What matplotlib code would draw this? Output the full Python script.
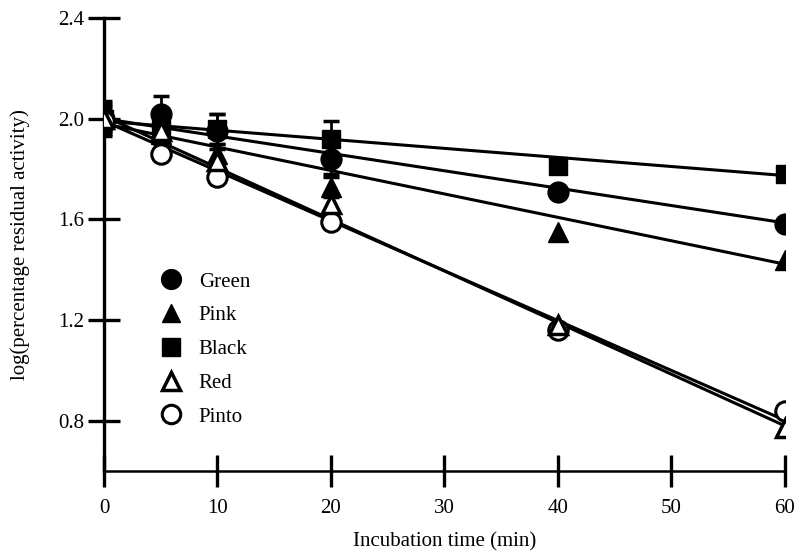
import numpy as np
import matplotlib.pyplot as plt

plt.rcParams['font.family'] = ['Liberation Serif', 'DejaVu Serif']

# incubation times (min)
times = [0, 5, 10, 20, 40, 60]

# log(percentage residual activity)
green = [2.00, 2.02, 1.95, 1.84, 1.71, 1.58]
pink = [2.00, 1.94, 1.86, 1.73, 1.55, 1.44]
black = [2.00, 1.96, 1.96, 1.92, 1.81, 1.78]
red = [2.00, 1.95, 1.83, 1.66, 1.18, 0.77]
pinto = [1.99, 1.86, 1.77, 1.59, 1.16, 0.84]

# error bars (upper/lower same), zero where not visible
green_err = [0.06, 0.07, 0.07, 0.06, 0, 0]
pink_err = [0.05, 0.04, 0.04, 0.04, 0, 0]
black_err = [0.07, 0.04, 0.06, 0.07, 0, 0]
red_err = [0.04, 0, 0, 0, 0, 0]
pinto_err = [0.04, 0, 0, 0, 0, 0]

# fitted regression lines (intercept, slope)
fit_intercept = [2.00, 1.98, 1.99, 2.01, 1.99]
fit_slope = [-0.0069, -0.0093, -0.0036, -0.0205, -0.0198]

names = ["Green", "Pink", "Black", "Red", "Pinto"]
series = [green, pink, black, red, pinto]
errs = [green_err, pink_err, black_err, red_err, pinto_err]

styles = [
    dict(marker='o', ms=15, mfc='black', mec='black', mew=1),
    dict(marker='^', ms=14, mfc='black', mec='black', mew=1),
    dict(marker='s', ms=13, mfc='black', mec='black', mew=1),
    dict(marker='^', ms=13, mfc='white', mec='black', mew=2.5),
    dict(marker='o', ms=14, mfc='white', mec='black', mew=2.2),
]

fig = plt.figure(figsize=(7.96, 5.52), dpi=100)
ax = fig.add_axes([0.1307, 0.1467, 0.855, 0.8207])

xfit = np.array([0, 60])
for i in range(5):
    ax.plot(xfit, fit_intercept[i] + fit_slope[i] * xfit, color='black', lw=2.2, zorder=2)

# draw order so open markers sit on top
order = [2, 0, 1, 4, 3]
handles = {}
for k, i in enumerate(order):
    e = np.array(errs[i])
    ax.errorbar(times, series[i], yerr=np.where(e > 0, e, np.nan), fmt='none',
                ecolor='black', elinewidth=2, capsize=6, capthick=2.5, zorder=3 + k)
    h, = ax.plot(times, series[i], ls='none', zorder=4 + k, **styles[i])
    handles[i] = h

ax.set_xlim(0, 60)
ax.set_ylim(0.6, 2.4)
ax.set_xticks([0, 10, 20, 30, 40, 50, 60])
ax.set_yticks([0.8, 1.2, 1.6, 2.0, 2.4])
ax.set_yticklabels(['0.8', '1.2', '1.6', '2.0', '2.4'])
ax.tick_params(direction='inout', length=23, width=2.4, labelsize=15, colors='black')
ax.tick_params(axis='y', pad=3)
ax.tick_params(axis='x', pad=9)
for s in ['top', 'right']:
    ax.spines[s].set_visible(False)
ax.spines['left'].set_linewidth(2.4)
ax.spines['bottom'].set_linewidth(1.8)

ax.set_xlabel("Incubation time (min)", fontsize=15, labelpad=10)
ax.set_ylabel("log(percentage residual activity)", fontsize=15, labelpad=20)

leg = ax.legend([handles[i] for i in range(5)], names, loc='upper left',
                bbox_to_anchor=(0.052, 0.462), frameon=False, fontsize=15,
                labelspacing=0.68, handletextpad=0.35, borderpad=0, numpoints=1,
                markerscale=0.95)

fig.savefig("out.png", dpi=100)
